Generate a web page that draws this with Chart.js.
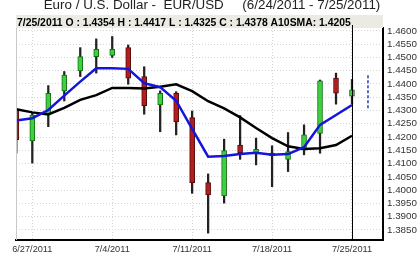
<!DOCTYPE html>
<html>
<head>
<meta charset="utf-8">
<script src="https://cdn.jsdelivr.net/npm/chart.js@4.4.0/dist/chart.umd.min.js"></script>
<style>
  html, body { margin: 0; padding: 0; background: #fff; }
  #myChart { display: block; }
</style>
</head>
<body>
<canvas id="myChart" width="419" height="257"></canvas>
<script>
/* Daily EUR/USD candles, one slot per trading day */
let dates = ['6/24/2011', '6/27/2011', '6/28/2011', '6/29/2011', '6/30/2011', '7/1/2011',
    '7/4/2011', '7/5/2011', '7/6/2011', '7/7/2011', '7/8/2011', '7/11/2011', '7/12/2011',
    '7/13/2011', '7/14/2011', '7/15/2011', '7/18/2011', '7/19/2011', '7/20/2011',
    '7/21/2011', '7/22/2011', '7/25/2011'];
let opens = [1.4302, 1.4185, 1.4286, 1.4374, 1.4449, 1.4503, 1.4508, 1.4537, 1.4428, 1.4321, 1.4365,
    1.4273, 1.4028, 1.3978, 1.4170, 1.4136, 1.4140, 1.4116, 1.4151, 1.4214, 1.4422, 1.4354];
let highs = [1.4306, 1.4291, 1.4394, 1.4447, 1.4537, 1.4570, 1.4579, 1.4547, 1.4465, 1.4374, 1.4371,
    1.4298, 1.4061, 1.4192, 1.4281, 1.4196, 1.4167, 1.4217, 1.4246, 1.4415, 1.4441, 1.4417];
let lows = [1.4140, 1.4102, 1.4239, 1.4336, 1.4428, 1.4441, 1.4500, 1.4399, 1.4286, 1.4220, 1.4208,
    1.3988, 1.3838, 1.3951, 1.4116, 1.4095, 1.4013, 1.4070, 1.4133, 1.4139, 1.4324, 1.4325];
let closes = [1.4189, 1.4283, 1.4365, 1.4434, 1.4503, 1.4531, 1.4531, 1.4422, 1.4318, 1.4365, 1.4257,
    1.4028, 1.3982, 1.4149, 1.4141, 1.4154, 1.4130, 1.4145, 1.4208, 1.4412, 1.4365, 1.4378];
/* Moving averages */
let fastMA = [1.4262, 1.4271, 1.4302, 1.4356, 1.4409, 1.4459, 1.4459, 1.4457, 1.4403, 1.4388, 1.4337,
    1.4231, 1.4126, 1.4129, 1.4136, 1.4141, 1.4133, 1.4136, 1.4162, 1.4246, 1.4283, 1.4321];
let sma10 = [1.4305, 1.4293, 1.4285, 1.4310, 1.4340, 1.4358, 1.4385, 1.4385, 1.4383, 1.4390, 1.4399,
    1.4373, 1.4335, 1.4308, 1.4274, 1.4234, 1.4196, 1.4165, 1.4155, 1.4158, 1.4170, 1.4205];
/* Projected range for the next slot (dashed blue) */
let projSlot = 22;
let projRange = [1.4309, 1.4437];
/* Axis ticks */
let yTicks = [1.3850, 1.3900, 1.3950, 1.4000, 1.4050, 1.4100, 1.4150, 1.4200, 1.4250,
    1.4300, 1.4350, 1.4400, 1.4450, 1.4500, 1.4550, 1.4600];
let xTickIdx = [1, 6, 11, 16, 21];

let titleText = 'Euro / U.S. Dollar -  EUR/USD     (6/24/2011 - 7/25/2011)';
let last = dates.length - 1;
let infoText = dates[last] + ' O : ' + opens[last].toFixed(4) + ' H : ' + highs[last].toFixed(4) +
    ' L : ' + lows[last].toFixed(4) + ' C : ' + closes[last].toFixed(4) +
    ' A10SMA: ' + sma10[last].toFixed(4);

let fontFam = "'Liberation Sans', Arial, sans-serif";

let wicks = [];
let bodies = [];
let bodyFill = [];
let bodyEdge = [];
for (let i = 0; i < dates.length; i++) {
    wicks.push({ x: i, y: [lows[i], highs[i]] });
    bodies.push({ x: i, y: [opens[i], closes[i]] });
    let up = closes[i] >= opens[i];
    bodyFill.push(up ? '#3fcf3f' : '#b01e1e');
    bodyEdge.push(up ? '#107010' : '#5a0a0a');
}

/* Title, info strip, crosshair and left frame line */
let decor = {
    id: 'decor',
    beforeDraw(chart) {
        let ctx = chart.ctx;
        ctx.save();
        ctx.fillStyle = '#fff';
        ctx.fillRect(0, 0, chart.width, chart.height);
        ctx.restore();
    },
    afterDraw(chart) {
        let ctx = chart.ctx;
        let a = chart.chartArea;
        let xs = chart.scales.x;
        ctx.save();
        ctx.fillStyle = '#222';
        ctx.font = '13.4px ' + fontFam;
        ctx.textAlign = 'center';
        ctx.textBaseline = 'alphabetic';
        ctx.fillText(titleText, 212, 8.5);

        ctx.fillStyle = '#ebebe4';
        ctx.fillRect(a.left, 15, a.right - a.left, 13);
        ctx.fillStyle = '#000';
        ctx.font = 'bold 10.4px ' + fontFam;
        ctx.textAlign = 'left';
        ctx.fillText(infoText, a.left + 1, 26);

        ctx.strokeStyle = '#c8c8c8';
        ctx.lineWidth = 1;
        ctx.beginPath();
        ctx.moveTo(a.left + 0.5, a.top);
        ctx.lineTo(a.left + 0.5, a.bottom);
        ctx.stroke();

        let cx = Math.round(xs.getPixelForValue(last)) + 0.5;
        ctx.strokeStyle = '#000';
        ctx.beginPath();
        ctx.moveTo(cx, a.top - 3);
        ctx.lineTo(cx, a.bottom);
        ctx.stroke();
        ctx.restore();
    }
};

let myChart = new Chart(document.getElementById('myChart'), {
    type: 'bar',
    data: {
        datasets: [{
            type: 'line',
            data: fastMA.map((v, i) => ({ x: i, y: v })),
            borderColor: '#1414dc',
            borderWidth: 2.5,
            pointRadius: 0,
            tension: 0,
            order: -2
        }, {
            type: 'line',
            data: sma10.map((v, i) => ({ x: i, y: v })),
            borderColor: '#000',
            borderWidth: 2.5,
            pointRadius: 0,
            tension: 0,
            order: -1
        }, {
            type: 'line',
            data: projRange.map(v => ({ x: projSlot, y: v })),
            borderColor: '#1f3fc0',
            borderWidth: 1.5,
            borderDash: [3, 2],
            pointRadius: 0,
            order: -1
        }, {
            data: bodies,
            backgroundColor: bodyFill,
            borderColor: bodyEdge,
            borderWidth: 1,
            borderSkipped: false,
            barThickness: 5,
            minBarLength: 2,
            grouped: false,
            order: 0
        }, {
            data: wicks,
            backgroundColor: '#222',
            borderWidth: 0,
            barThickness: 1.6,
            grouped: false,
            order: 1
        }]
    },
    options: {
        responsive: false,
        animation: false,
        devicePixelRatio: 1,
        layout: { padding: { left: 16, top: 28, right: 0, bottom: 0 } },
        plugins: {
            legend: { display: false },
            tooltip: { enabled: false },
            title: { display: false }
        },
        scales: {
            x: {
                type: 'linear',
                min: -0.02,
                max: 22.94,
                offset: false,
                grid: { offset: false, color: '#d4d4d4', lineWidth: 1, drawTicks: false },
                border: { display: true, color: '#000', width: 2, dash: [1, 2] },
                afterBuildTicks: (scale) => {
                    scale.ticks = xTickIdx.map(v => ({ value: v }));
                },
                afterFit: (scale) => { scale.height = 17; },
                ticks: {
                    autoSkip: false,
                    maxRotation: 0,
                    padding: 4,
                    color: '#333',
                    font: { family: fontFam, size: 9.2 },
                    callback: (v) => dates[v] || ''
                }
            },
            y: {
                position: 'right',
                min: 1.3812,
                max: 1.4611,
                grid: { color: '#d4d4d4', lineWidth: 1, drawTicks: false },
                border: { display: true, color: '#000', width: 2, dash: [1, 2] },
                afterBuildTicks: (scale) => {
                    scale.ticks = yTicks.map(v => ({ value: v }));
                },
                afterFit: (scale) => { scale.width = 36; },
                ticks: {
                    autoSkip: false,
                    padding: 4,
                    color: '#333',
                    font: { family: fontFam, size: 9.8 },
                    callback: (v) => Number(v).toFixed(4)
                }
            }
        }
    },
    plugins: [decor]
});
</script>
</body>
</html>
